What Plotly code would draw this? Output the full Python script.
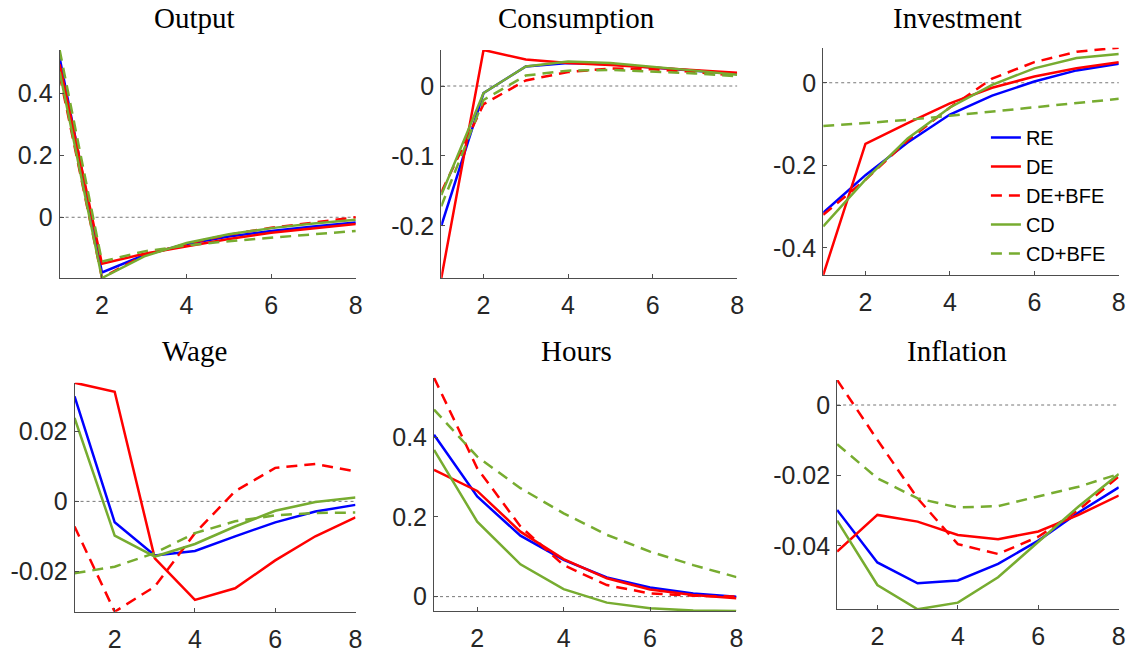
import plotly.graph_objects as go

# Horizon (quarters)
periods = [1, 2, 3, 4, 5, 6, 7, 8]

panel_titles = ["Output", "Consumption", "Investment", "Wage", "Hours", "Inflation"]
series_names = ["RE", "DE", "DE+BFE", "CD", "CD+BFE"]

# Impulse responses, one list per model, per variable
output_re = [0.515, -0.178, -0.122, -0.086, -0.062, -0.044, -0.030, -0.017]
output_de = [0.494, -0.150, -0.118, -0.094, -0.070, -0.050, -0.035, -0.022]
output_de_bfe = [0.460, -0.195, -0.122, -0.086, -0.056, -0.034, -0.017, 0.000]
output_cd = [0.470, -0.196, -0.126, -0.083, -0.055, -0.035, -0.020, -0.008]
output_cd_bfe = [0.540, -0.143, -0.110, -0.091, -0.077, -0.066, -0.056, -0.044]

cons_re = [-0.200, -0.010, 0.028, 0.033, 0.031, 0.027, 0.022, 0.017]
cons_de = [-0.275, 0.0515, 0.038, 0.033, 0.030, 0.026, 0.022, 0.019]
cons_de_bfe = [-0.152, -0.026, 0.008, 0.020, 0.025, 0.024, 0.020, 0.015]
cons_cd = [-0.156, -0.010, 0.028, 0.035, 0.033, 0.028, 0.022, 0.016]
cons_cd_bfe = [-0.172, -0.020, 0.015, 0.022, 0.023, 0.021, 0.018, 0.014]

inv_re = [-0.315, -0.224, -0.145, -0.077, -0.031, 0.003, 0.030, 0.046]
inv_de = [-0.466, -0.148, -0.098, -0.050, -0.012, 0.015, 0.035, 0.050]
inv_de_bfe = [-0.320, -0.235, -0.140, -0.060, 0.010, 0.050, 0.075, 0.085]
inv_cd = [-0.348, -0.235, -0.135, -0.060, -0.005, 0.035, 0.060, 0.070]
inv_cd_bfe = [-0.105, -0.098, -0.090, -0.080, -0.070, -0.060, -0.050, -0.039]

wage_re = [0.0301, -0.0060, -0.0155, -0.0142, -0.0100, -0.0060, -0.0029, -0.0010]
wage_de = [0.0340, 0.0314, -0.0163, -0.0282, -0.0249, -0.0169, -0.0100, -0.0046]
wage_de_bfe = [-0.0072, -0.0316, -0.0244, -0.0091, 0.0029, 0.0096, 0.0107, 0.0086]
wage_cd = [0.0239, -0.0098, -0.0158, -0.0122, -0.0072, -0.0027, -0.0002, 0.0011]
wage_cd_bfe = [-0.0206, -0.0187, -0.0148, -0.0091, -0.0057, -0.0040, -0.0033, -0.0032]

hours_re = [0.406, 0.251, 0.153, 0.092, 0.048, 0.023, 0.008, 0.000]
hours_de = [0.318, 0.265, 0.163, 0.094, 0.046, 0.018, 0.004, -0.004]
hours_de_bfe = [0.549, 0.322, 0.176, 0.079, 0.029, 0.008, 0.0025, 0.000]
hours_cd = [0.368, 0.188, 0.081, 0.019, -0.015, -0.029, -0.035, -0.036]
hours_cd_bfe = [0.469, 0.351, 0.272, 0.209, 0.155, 0.113, 0.079, 0.049]

infl_re = [-0.0298, -0.0447, -0.0506, -0.0498, -0.0451, -0.0385, -0.0305, -0.0234]
infl_de = [-0.0416, -0.0312, -0.0331, -0.0369, -0.0381, -0.0359, -0.0312, -0.0257]
infl_de_bfe = [0.0071, -0.0099, -0.0265, -0.0395, -0.0423, -0.0374, -0.0298, -0.0203]
infl_cd = [-0.0328, -0.0511, -0.0580, -0.0561, -0.0489, -0.0388, -0.0288, -0.0196]
infl_cd_bfe = [-0.0111, -0.0208, -0.0265, -0.0291, -0.0287, -0.0260, -0.0232, -0.0196]

# Tick labels per panel
x_ticks = [2, 4, 6, 8]
y_ticks_output = [0, 0.2, 0.4]
y_ticks_cons = [-0.2, -0.1, 0]
y_ticks_inv = [-0.4, -0.2, 0]
y_ticks_wage = [-0.02, 0, 0.02]
y_ticks_hours = [0, 0.2, 0.4]
y_ticks_infl = [-0.04, -0.02, 0]

panels = [
    [output_re, output_de, output_de_bfe, output_cd, output_cd_bfe],
    [cons_re, cons_de, cons_de_bfe, cons_cd, cons_cd_bfe],
    [inv_re, inv_de, inv_de_bfe, inv_cd, inv_cd_bfe],
    [wage_re, wage_de, wage_de_bfe, wage_cd, wage_cd_bfe],
    [hours_re, hours_de, hours_de_bfe, hours_cd, hours_cd_bfe],
    [infl_re, infl_de, infl_de_bfe, infl_cd, infl_cd_bfe],
]
panel_yticks = [y_ticks_output, y_ticks_cons, y_ticks_inv,
                y_ticks_wage, y_ticks_hours, y_ticks_infl]

BLUE = "#0000FF"
RED = "#FF0000"
GREEN = "#77AC30"
styles = [
    dict(color=BLUE, dash="solid"),
    dict(color=RED, dash="solid"),
    dict(color=RED, dash="11px,7px"),
    dict(color=GREEN, dash="solid"),
    dict(color=GREEN, dash="11px,7px"),
]

W, H = 1140, 654
# plot-box pixel extents (left, right, top, bottom)
boxes = [
    (60, 358, 50, 278),
    (444, 741.7, 50, 278.3),
    (828.3, 1125.7, 47.7, 275),
    (75, 357.7, 382.7, 611.7),
    (436.7, 741, 377.7, 611),
    (842.3, 1125.7, 380, 609.3),
]
title_pos = [(196, 18), (580, 18), (963, 18), (196, 351), (580, 351), (963, 351)]

AXIS_COLOR = "#4d4d4d"
TICK_FONT = dict(family="Liberation Sans, Arial, sans-serif", size=25, color="#262626")

fig = go.Figure()
layout = dict(
    width=W, height=H,
    margin=dict(l=0, r=0, t=0, b=0),
    paper_bgcolor="white", plot_bgcolor="white",
    showlegend=True,
    legend=dict(
        x=992 / W, y=1 - 118 / H, xanchor="left", yanchor="top",
        bgcolor="rgba(0,0,0,0)", borderwidth=0,
        font=dict(family="Liberation Sans, Arial, sans-serif", size=20, color="black"),
        tracegroupgap=0, itemwidth=30,
    ),
)
shapes = []
annotations = []

for i, (data, yt) in enumerate(zip(panels, panel_yticks)):
    n = i + 1
    xa = "x" if n == 1 else f"x{n}"
    ya = "y" if n == 1 else f"y{n}"
    for k, (vals, name, st) in enumerate(zip(data, series_names, styles)):
        fig.add_trace(go.Scatter(
            x=periods, y=vals, mode="lines", name=name,
            line=dict(color=st["color"], dash=st["dash"], width=2.5),
            xaxis=xa, yaxis=ya, showlegend=(n == 3),
            legendgroup=name, hoverinfo="skip",
        ))
    lo = min(min(v) for v in data)
    hi = max(max(v) for v in data)
    l, r, t, b = boxes[i]
    common = dict(showline=True, linecolor=AXIS_COLOR, linewidth=1, mirror=False,
                  showgrid=False, zeroline=False, ticks="inside", ticklen=4,
                  tickcolor=AXIS_COLOR, tickwidth=1, tickfont=TICK_FONT)
    layout["xaxis" if n == 1 else f"xaxis{n}"] = dict(
        domain=[l / W, r / W], anchor=ya, range=[periods[0], periods[-1]],
        tickvals=x_ticks, ticktext=[str(v) for v in x_ticks],
        ticklabelstandoff=5, **common)
    layout["yaxis" if n == 1 else f"yaxis{n}"] = dict(
        domain=[1 - b / H, 1 - t / H], anchor=xa, range=[lo, hi],
        tickvals=yt, ticktext=[f"{v:g}" for v in yt],
        ticklabelstandoff=1, **common)
    # dotted zero reference line
    shapes.append(dict(type="line", xref=f"{xa} domain", yref=ya,
                       x0=0, x1=1, y0=0, y1=0, layer="below",
                       line=dict(color="#777777", width=1, dash="dot")))
    tx, ty = title_pos[i]
    annotations.append(dict(text=panel_titles[i], xref="paper", yref="paper",
                            x=tx / W, y=1 - ty / H, xanchor="center", yanchor="middle",
                            showarrow=False,
                            font=dict(family="Liberation Serif, Times New Roman, serif",
                                      size=29, color="black")))

layout["shapes"] = shapes
layout["annotations"] = annotations
fig.update_layout(**layout)
fig.write_html("out.html")
